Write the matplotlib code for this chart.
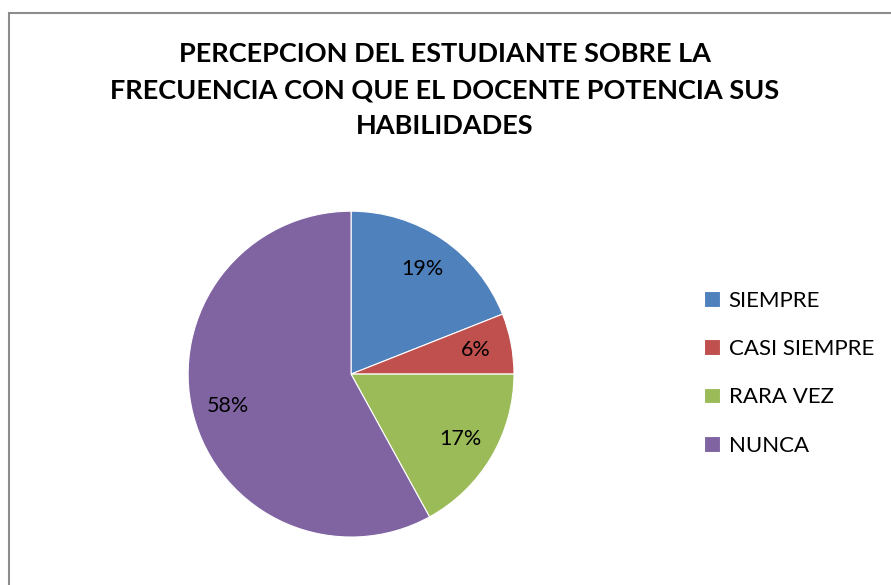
import matplotlib.pyplot as plt
from matplotlib.patches import Rectangle

# data
labels = ['SIEMPRE', 'CASI SIEMPRE', 'RARA VEZ', 'NUNCA']
values = [19, 6, 17, 58]
colors = ['#4F81BD', '#C0504D', '#9BBB59', '#8064A2']
title = 'PERCEPCION DEL ESTUDIANTE SOBRE LA\nFRECUENCIA CON QUE EL DOCENTE POTENCIA SUS\nHABILIDADES'

plt.rcParams['font.family'] = ['Lato', 'DejaVu Sans']

fig = plt.figure(figsize=(8.91, 5.85), dpi=100)

# chart border (only left and top visible)
fig.patches.append(Rectangle((9 / 891, -0.1), 1.2, (585 - 13) / 585 + 0.1,
                             transform=fig.transFigure, fill=False,
                             edgecolor='#8c8c8c', linewidth=1.5))

ax = fig.add_axes([0.211, 0.082, 0.366, 0.557])
wedges, texts, autotexts = ax.pie(values, colors=colors, startangle=90, counterclock=False,
                                  autopct='%1.0f%%', pctdistance=0.78,
                                  wedgeprops=dict(edgecolor='white', linewidth=0.8),
                                  textprops=dict(fontsize=15.5, color='black'))
ax.set_xlim(-1, 1)
ax.set_ylim(-1, 1)
ax.set_aspect('equal')

fig.text(0.4995, 0.846, title, ha='center', va='center', fontsize=19.5,
         fontweight='bold', linespacing=1.62)

leg = fig.legend(wedges, labels, loc='center left', bbox_to_anchor=(0.778, 0.362),
                 frameon=False, fontsize=16, handlelength=0.7, handleheight=0.7,
                 handletextpad=0.4, labelspacing=1.28, borderpad=0)

fig.savefig('out.png', dpi=100)
